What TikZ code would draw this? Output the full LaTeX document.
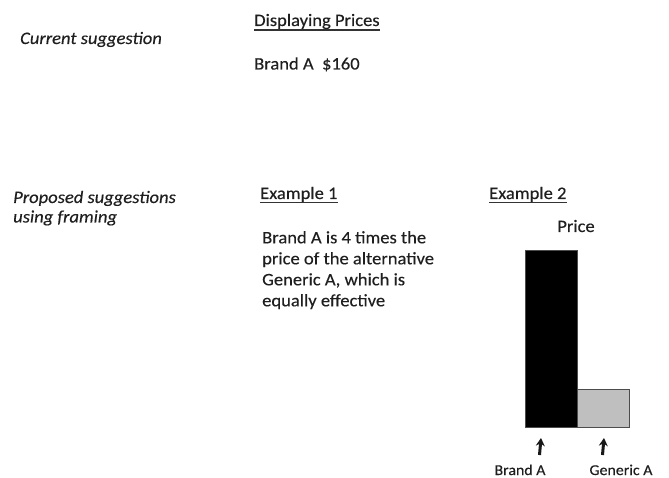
\documentclass[tikz,border=0pt]{standalone}
\usepackage{fontspec}
\setmainfont{Carlito}[FakeStretch=1.06, FakeBold=0.3]
\usetikzlibrary{arrows.meta}
\tikzset{
  txt/.style={anchor=base west, inner sep=0pt, font=\fontsize{17.5}{21}\selectfont, text=black!88},
  ital/.style={txt, font=\fontsize{17.5}{19.5}\selectfont\itshape},
  small/.style={txt, anchor=base, font=\fontsize{15}{17}\selectfont},
  uline/.style={line width=1.1pt, draw=black!80},
  bar/.style={draw=black!70, line width=0.6pt},
  pointer/.style={-{Stealth[length=8pt,width=9pt]}, line width=3pt, draw=black!90}
}
\begin{document}
\begin{tikzpicture}[x=1pt,y=-1pt]
\useasboundingbox (0,0) rectangle (669,478);
\node[ital] (cur) at (20,44) {Current suggestion};
\node[txt] (disp) at (254,26) {Displaying Prices};
\draw[uline] ([yshift=-4pt]disp.base west) -- ([yshift=-4pt]disp.base east);
\node[txt] (brand) at (254,69.5) {Brand A\ \ \$160};
% multi-line nodes: base anchor = last line's baseline
\node[ital, align=left] (prop) at (13,222.5) {Proposed suggestions\\using framing};
\node[txt] (ex1) at (260,199) {Example 1};
\draw[uline] ([yshift=-3.5pt]ex1.base west) -- ([yshift=-3.5pt]ex1.base east);
\node[txt, align=left] (body) at (262,306.3) {Brand A is 4 times the\\price of the alternative\\Generic A, which is\\equally effective};
\node[txt] (ex2) at (489,199) {Example 2};
\draw[uline] ([yshift=-3.5pt]ex2.base west) -- ([yshift=-3.5pt]ex2.base east);
\node[txt, anchor=base] (price) at (576,232) {Price};
\draw[bar, fill=black] (525,250) rectangle (577,427);
\draw[bar, fill=black!25] (577,389) rectangle (629,427);
\node[small] (lb) at (520,475) {Brand A};
\node[small] (lg) at (621,475) {Generic A};
\coordinate (tb) at (539.5,455);
\coordinate (hb) at (541,438);
\coordinate (tg) at (602.5,455);
\coordinate (hg) at (604,438);
\draw[pointer] (tb) -- (hb);
\draw[pointer] (tg) -- (hg);
\end{tikzpicture}
\end{document}
